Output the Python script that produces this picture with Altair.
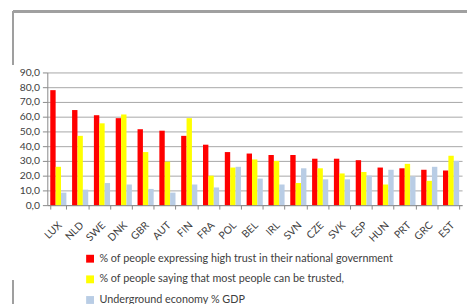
import altair as alt
import pandas as pd

countries = ["LUX", "NLD", "SWE", "DNK", "GBR", "AUT", "FIN", "FRA", "POL", "BEL",
             "IRL", "SVN", "CZE", "SVK", "ESP", "HUN", "PRT", "GRC", "EST"]
trust_gov = [78.0, 64.5, 61.0, 59.0, 51.5, 50.5, 47.0, 41.0, 36.0, 35.0,
             34.0, 34.0, 31.5, 31.5, 30.5, 25.5, 25.0, 24.0, 23.5]
trust_people = [26.0, 47.0, 55.5, 61.5, 36.0, 29.5, 59.0, 20.0, 25.5, 31.0,
                30.0, 15.0, 25.0, 21.5, 22.5, 14.0, 28.0, 16.5, 33.5]
underground = [8.5, 10.5, 15.0, 14.0, 11.0, 8.5, 14.0, 12.0, 26.0, 18.0,
               14.0, 25.0, 17.5, 17.5, 20.0, 24.0, 19.5, 26.0, 30.0]
series = ["% of people expressing high trust in their national government",
          "% of people saying that most people can be trusted,",
          "Underground economy % GDP"]
colors = ["#ff0000", "#ffff00", "#b9cde5"]
y_ticks = [0, 10, 20, 30, 40, 50, 60, 70, 80, 90]

rows = []
for i, c in enumerate(countries):
    for s, vals in zip(series, [trust_gov, trust_people, underground]):
        rows.append({"country": c, "series": s, "value": vals[i]})
df = pd.DataFrame(rows)

FONT = "Lato"

bars = alt.Chart(df).mark_bar(strokeWidth=0).encode(
    x=alt.X("country:N", sort=countries, title=None,
            scale=alt.Scale(paddingInner=0.26, paddingOuter=0.135),
            axis=alt.Axis(labelAngle=-45, labelAlign="right", labelBaseline="top",
                          labelFontSize=10.5, labelColor="#404040", labelFont=FONT,
                          tickBand="extent", tickSize=4, tickColor="#888888",
                          domainColor="#888888", labelPadding=11, labelOffset=-2)),
    xOffset=alt.XOffset("series:N", sort=series),
    y=alt.Y("value:Q", title=None,
            scale=alt.Scale(domain=[0, 90], nice=False),
            axis=alt.Axis(values=y_ticks, labelExpr="replace(format(datum.value,'.1f'),'.',',')",
                          labelFontSize=10.5, labelColor="#404040", labelFont=FONT,
                          tickSize=5, tickColor="#888888", domainColor="#888888",
                          gridColor="#a6a6a6", labelPadding=3)),
    color=alt.Color("series:N", sort=series,
                    scale=alt.Scale(domain=series, range=colors),
                    legend=alt.Legend(title=None, orient="none", legendX=38, legendY=184,
                                      symbolType="square", symbolSize=64,
                                      symbolStrokeWidth=0, labelFontSize=11,
                                      labelFont=FONT, labelColor="#404040",
                                      rowPadding=9, labelLimit=400, symbolOffset=0)),
)

frame_top = alt.Chart(df).mark_rule(color="#a0a0a0", strokeWidth=1.5).encode(
    x=alt.value(-35), x2=alt.value(430), y=alt.value(-62))
frame_left1 = alt.Chart(df).mark_rule(color="#a0a0a0", strokeWidth=1.5).encode(
    x=alt.value(-35), y=alt.value(-62), y2=alt.value(-8))
frame_left2 = alt.Chart(df).mark_rule(color="#a0a0a0", strokeWidth=1.5).encode(
    x=alt.value(-35), y=alt.value(212), y2=alt.value(240))

chart = alt.layer(frame_top, frame_left1, frame_left2, bars).properties(
    width=422, height=135,
    padding={"left": 40, "top": 63, "right": 5, "bottom": 98},
    autosize=alt.AutoSizeParams(type="none"),
).configure_view(stroke=None).configure_axis(grid=True).configure_axisX(grid=False)

chart.save("out.html", embed_options={"renderer": "svg", "actions": False})
